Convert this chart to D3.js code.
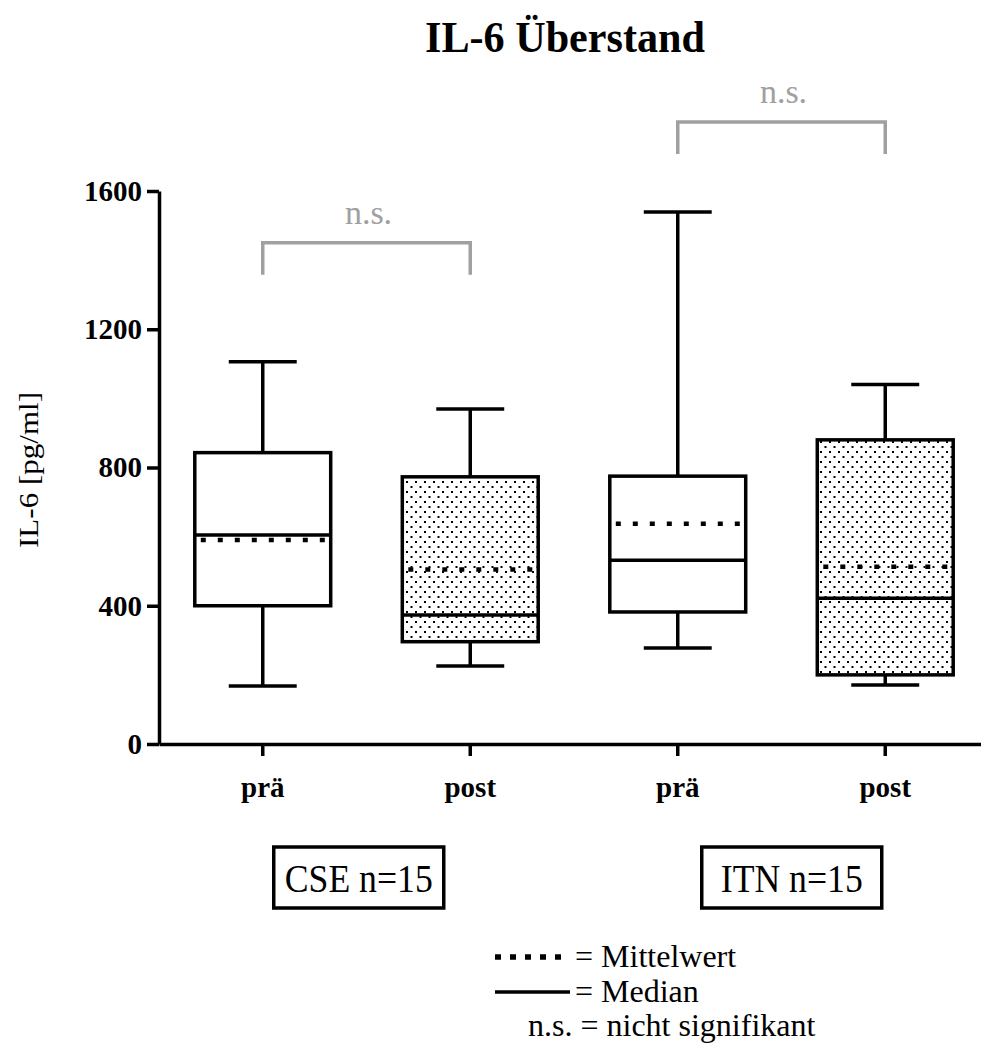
<!DOCTYPE html>
<html>
<head>
<meta charset="utf-8">
<script src="https://cdnjs.cloudflare.com/ajax/libs/d3/7.8.5/d3.min.js"></script>
<style>
	body { margin: 0; background: #fff; }
	text { font-family: "Liberation Serif", "Times New Roman", serif; }
</style>
</head>
<body>
<div id="content"></div>
<script>
var categories = ["prä", "post", "prä", "post"];
var groups = ["CSE n=15", "ITN n=15"];
var whiskerLow = [168, 226, 278, 171];
var q1 = [400, 296, 382, 200];
var median = [605, 373, 532, 422];
var mean = [590, 505, 637, 513];
var q3 = [843, 773, 775, 880];
var whiskerHigh = [1106, 969, 1539, 1040];
var filled = [false, true, false, true];
var yTicks = [0, 400, 800, 1200, 1600];
var sigPairs = [[0, 1, 1450, "n.s."], [2, 3, 1800, "n.s."]];

var W = 981, H = 1044;
var svg = d3.select("#content").append("svg")
	.attr("width", W).attr("height", H)
	.attr("font-family", "Liberation Serif");

var defs = svg.append("defs");
var pat = defs.append("pattern").attr("id", "dots")
	.attr("patternUnits", "userSpaceOnUse")
	.attr("width", 9).attr("height", 10);
pat.append("rect").attr("width", 9).attr("height", 10).attr("fill", "#fff");
pat.append("rect").attr("x", 1).attr("y", 1).attr("width", 2).attr("height", 2).attr("fill", "#000");
pat.append("rect").attr("x", 5.5).attr("y", 6).attr("width", 2).attr("height", 2).attr("fill", "#000");

var axisX = 159, axisY = 744;

var x = d3.scaleBand().domain(d3.range(categories.length))
	.range([axisX, 989]);
var y = d3.scaleLinear().domain([0, 1600]).range([axisY, 191]);

var bw = x.bandwidth() * 0.655;
var cx = function (i) { return x(i) + x.bandwidth() / 2; };

// title
svg.append("text").attr("x", 565).attr("y", 52)
	.attr("text-anchor", "middle")
	.attr("font-size", 44).attr("font-weight", "bold")
	.attr("textLength", 280).attr("lengthAdjust", "spacingAndGlyphs")
	.text("IL-6 Überstand");

// y axis
var yAxis = svg.append("g").attr("transform", "translate(" + axisX + ",0)")
	.call(d3.axisLeft(y).tickValues(yTicks).tickFormat(d3.format("d"))
		.tickSize(12).tickSizeOuter(0).tickPadding(5));
yAxis.attr("font-family", "Liberation Serif");
yAxis.select(".domain").attr("stroke-width", 3.5);
yAxis.selectAll(".tick line").attr("stroke-width", 3.5);
yAxis.selectAll(".tick text").attr("font-size", 29).attr("font-weight", "bold")
	.attr("fill", "#000");

// x axis
var xAxis = svg.append("g").attr("transform", "translate(0," + axisY + ")")
	.call(d3.axisBottom(x).tickFormat(function (d) { return categories[d]; })
		.tickSize(12).tickSizeOuter(0).tickPadding(20));
xAxis.attr("font-family", "Liberation Serif");
xAxis.select(".domain").attr("stroke-width", 3.5);
xAxis.selectAll(".tick line").attr("stroke-width", 3.5);
xAxis.selectAll(".tick text").attr("font-size", 29).attr("font-weight", "bold")
	.attr("fill", "#000");

// y label
svg.append("text")
	.attr("transform", "translate(38,470) rotate(-90)")
	.attr("text-anchor", "middle").attr("font-size", 28)
	.attr("textLength", 156).attr("lengthAdjust", "spacingAndGlyphs")
	.text("IL-6 [pg/ml]");

// boxes
var box = svg.selectAll("g.box").data(categories).enter()
	.append("g").attr("class", "box")
	.attr("stroke", "#000").attr("stroke-width", 3.5).attr("fill", "none");

box.append("line")
	.attr("x1", function (d, i) { return cx(i); }).attr("x2", function (d, i) { return cx(i); })
	.attr("y1", function (d, i) { return y(whiskerHigh[i]); })
	.attr("y2", function (d, i) { return y(q3[i]); });
box.append("line")
	.attr("x1", function (d, i) { return cx(i); }).attr("x2", function (d, i) { return cx(i); })
	.attr("y1", function (d, i) { return y(q1[i]); })
	.attr("y2", function (d, i) { return y(whiskerLow[i]); });
box.append("line")
	.attr("x1", function (d, i) { return cx(i) - bw / 4; }).attr("x2", function (d, i) { return cx(i) + bw / 4; })
	.attr("y1", function (d, i) { return y(whiskerHigh[i]); })
	.attr("y2", function (d, i) { return y(whiskerHigh[i]); });
box.append("line")
	.attr("x1", function (d, i) { return cx(i) - bw / 4; }).attr("x2", function (d, i) { return cx(i) + bw / 4; })
	.attr("y1", function (d, i) { return y(whiskerLow[i]); })
	.attr("y2", function (d, i) { return y(whiskerLow[i]); });
box.append("rect")
	.attr("x", function (d, i) { return cx(i) - bw / 2; })
	.attr("y", function (d, i) { return y(q3[i]); })
	.attr("width", bw)
	.attr("height", function (d, i) { return y(q1[i]) - y(q3[i]); })
	.attr("fill", function (d, i) { return filled[i] ? "url(#dots)" : "#fff"; });
box.append("line")
	.attr("x1", function (d, i) { return cx(i) - bw / 2; }).attr("x2", function (d, i) { return cx(i) + bw / 2; })
	.attr("y1", function (d, i) { return y(mean[i]); })
	.attr("y2", function (d, i) { return y(mean[i]); })
	.attr("stroke-width", 4.5).attr("stroke-dasharray", "5,12")
	.attr("stroke-dashoffset", -6);
box.append("line")
	.attr("x1", function (d, i) { return cx(i) - bw / 2; }).attr("x2", function (d, i) { return cx(i) + bw / 2; })
	.attr("y1", function (d, i) { return y(median[i]); })
	.attr("y2", function (d, i) { return y(median[i]); });

// significance brackets
var sig = svg.selectAll("g.sig").data(sigPairs).enter()
	.append("g").attr("class", "sig");
sig.append("path")
	.attr("d", function (d) {
		var top = y(d[2]);
		return "M" + cx(d[0]) + "," + (top + 32) + "V" + top + "H" + cx(d[1]) + "V" + (top + 32);
	})
	.attr("fill", "none").attr("stroke", "#a0a0a0").attr("stroke-width", 3.5);
sig.append("text")
	.attr("x", function (d) { return (cx(d[0]) + cx(d[1])) / 2 + 2; })
	.attr("y", function (d) { return y(d[2]) - 19; })
	.attr("text-anchor", "middle").attr("font-size", 34).attr("fill", "#a0a0a0")
	.text(function (d) { return d[3]; });

// group labels
var gx = [cx(0) + 96, cx(2) + 114];
var gw = [170, 180];
var gl = svg.selectAll("g.grp").data(groups).enter().append("g").attr("class", "grp");
gl.append("rect")
	.attr("x", function (d, i) { return gx[i] - gw[i] / 2; })
	.attr("y", 847).attr("width", function (d, i) { return gw[i]; }).attr("height", 61)
	.attr("fill", "#fff").attr("stroke", "#000").attr("stroke-width", 3.5);
gl.append("text")
	.attr("x", function (d, i) { return gx[i]; })
	.attr("y", 892).attr("text-anchor", "middle").attr("font-size", 40)
	.attr("textLength", function (d, i) { return i == 0 ? 148 : 142; })
	.attr("lengthAdjust", "spacingAndGlyphs")
	.text(function (d) { return d; });

// legend
var leg = svg.append("g");
leg.append("line").attr("x1", 495).attr("x2", 570).attr("y1", 957).attr("y2", 957)
	.attr("stroke", "#000").attr("stroke-width", 5.5).attr("stroke-dasharray", "6,9");
leg.append("text").attr("x", 575).attr("y", 967).attr("font-size", 32).text("= Mittelwert");
leg.append("line").attr("x1", 495).attr("x2", 570).attr("y1", 992).attr("y2", 992)
	.attr("stroke", "#000").attr("stroke-width", 3.5);
leg.append("text").attr("x", 575).attr("y", 1002).attr("font-size", 32).text("= Median");
leg.append("text").attr("x", 528).attr("y", 1036).attr("font-size", 32).text("n.s. = nicht signifikant");
</script>
</body>
</html>
